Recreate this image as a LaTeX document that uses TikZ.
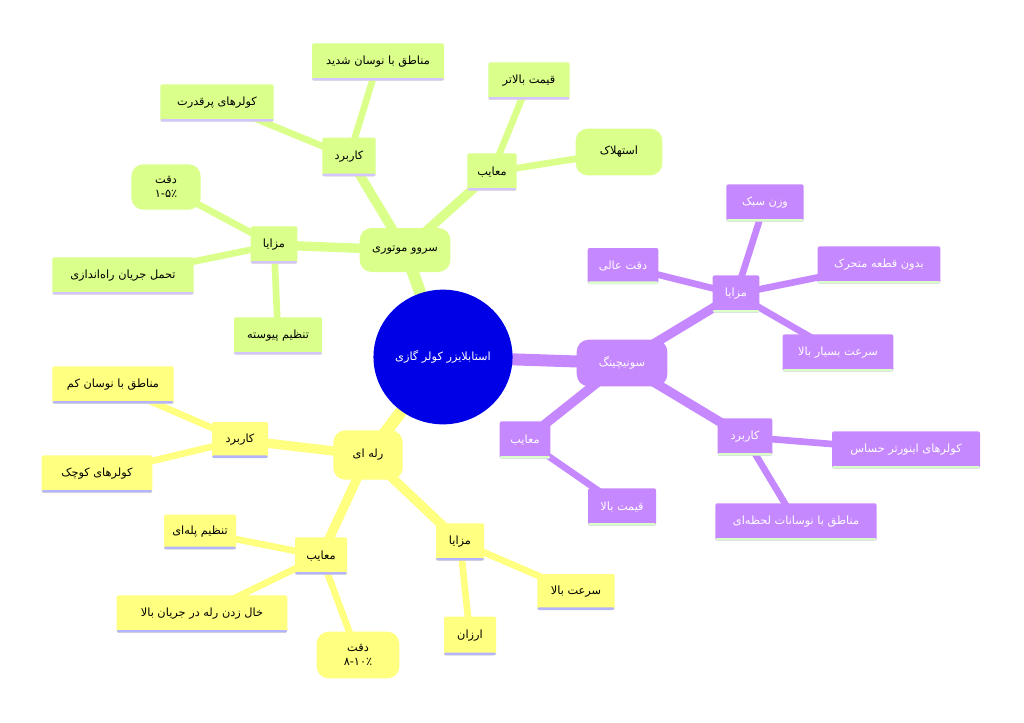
\documentclass[tikz,border=0pt]{standalone}
\usepackage{fontspec}
\newfontfamily\arabicfont[Script=Arabic]{DejaVu Sans}
\TeXXeTstate=1
\usetikzlibrary{backgrounds,shapes.geometric}
\definecolor{servoclr}{HTML}{DAFF8A}
\definecolor{relayclr}{HTML}{FFFF80}
\definecolor{sonicclr}{HTML}{C688FF}
\definecolor{rootclr}{HTML}{0000E6}
\definecolor{lineg}{HTML}{D4C4FF}
\definecolor{liney}{HTML}{B4B4FF}
\definecolor{linep}{HTML}{DAFFC8}
\newcommand\fa[1]{\beginR #1\endR}
\tikzset{
  box/.style={inner sep=1pt, align=center, font=\arabicfont\fontsize{8.5}{11}\selectfont},
  flat/.style={box, rounded corners=1.5pt, fill=#1},
  under/.style={path picture={\fill[#1] (path picture bounding box.south west) rectangle ([yshift=2pt]path picture bounding box.south east);}},
  gbox/.style={flat=servoclr, under=lineg},
  ybox/.style={flat=relayclr, under=liney},
  pbox/.style={flat=sonicclr, under=linep, text=white},
  round/.style={box, rounded corners=9pt, fill=#1},
  wide/.style={line width=9pt},
  mid/.style={line width=7pt},
  thin/.style={line width=5pt}
}
\begin{document}
\begin{tikzpicture}[x=0.75pt,y=-0.75pt]
\useasboundingbox (0,0) rectangle (1024,722);
% center
\node[ellipse, fill=rootclr, text=white, box, minimum width=91pt, minimum height=101pt] (root) at (443,357) {\fa{استابلایزر کولر گازی}};
% servo branch
\node[round=servoclr, minimum width=68pt, minimum height=33pt] (servo) at (405,250) {\fa{سروو موتوری}};
\node[gbox, minimum width=40pt, minimum height=29pt] (skar) at (349,157) {\fa{کاربرد}};
\node[gbox, minimum width=85pt, minimum height=28pt] (spor) at (217,103) {\fa{کولرهای پرقدرت}};
\node[gbox, minimum width=99pt, minimum height=28pt] (sshad) at (378,62) {\fa{مناطق با نوسان شدید}};
\node[gbox, minimum width=37pt, minimum height=28pt] (sayb) at (492,172) {\fa{معایب}};
\node[gbox, minimum width=61pt, minimum height=28pt] (sgeran) at (529,81) {\fa{قیمت بالاتر}};
\node[round=servoclr, minimum width=65pt, minimum height=35pt] (sest) at (619,152) {\fa{استهلاک}};
\node[gbox, minimum width=35pt, minimum height=28pt] (smaz) at (274,245) {\fa{مزایا}};
\node[round=servoclr, minimum width=52pt, minimum height=34pt] (sdeq) at (166,187) {\fa{دقت}\\\fa{۱-۵٪}};
\node[gbox, minimum width=106pt, minimum height=28pt] (stah) at (123,276) {\fa{تحمل جریان راه‌اندازی}};
\node[gbox, minimum width=66pt, minimum height=28pt] (stan) at (278,336) {\fa{تنظیم پیوسته}};
% relay branch
\node[round=relayclr, minimum width=52pt, minimum height=37pt] (relay) at (368,455) {\fa{رله ای}};
\node[ybox, minimum width=42pt, minimum height=27pt] (rkar) at (240,440) {\fa{کاربرد}};
\node[ybox, minimum width=91pt, minimum height=28pt] (rkam) at (113,385) {\fa{مناطق با نوسان کم}};
\node[ybox, minimum width=83pt, minimum height=28pt] (rkuch) at (97,474) {\fa{کولرهای کوچک}};
\node[ybox, minimum width=39pt, minimum height=28pt] (rayb) at (321,556) {\fa{معایب}};
\node[ybox, minimum width=54pt, minimum height=26pt] (rpel) at (200,532) {\fa{تنظیم پله‌ای}};
\node[ybox, minimum width=128pt, minimum height=28pt] (rkhal) at (202,614) {\fa{خال زدن رله در جریان بالا}};
\node[round=relayclr, minimum width=62pt, minimum height=35pt] (rdeq) at (358,655) {\fa{دقت}\\\fa{۸-۱۰٪}};
\node[ybox, minimum width=36pt, minimum height=28pt] (rmaz) at (460,542) {\fa{مزایا}};
\node[ybox, minimum width=58pt, minimum height=27pt] (rsor) at (576,592) {\fa{سرعت بالا}};
\node[ybox, minimum width=39pt, minimum height=29pt] (rarz) at (470,636) {\fa{ارزان}};
% sonic branch
\node[round=sonicclr, text=white, minimum width=68pt, minimum height=35pt] (sonic) at (622,363) {\fa{سونیچینگ}};
\node[pbox, minimum width=35pt, minimum height=28pt] (pmaz) at (736,294) {\fa{مزایا}};
\node[pbox, minimum width=58pt, minimum height=28pt] (pvaz) at (765,203) {\fa{وزن سبک}};
\node[pbox, minimum width=53pt, minimum height=27pt] (pdeq) at (623,266) {\fa{دقت عالی}};
\node[pbox, minimum width=92pt, minimum height=28pt] (pbed) at (879,265) {\fa{بدون قطعه متحرک}};
\node[pbox, minimum width=83pt, minimum height=28pt] (psor) at (838,353) {\fa{سرعت بسیار بالا}};
\node[pbox, minimum width=41pt, minimum height=28pt] (pkar) at (745,437) {\fa{کاربرد}};
\node[pbox, minimum width=111pt, minimum height=28pt] (pinv) at (906,450) {\fa{کولرهای اینورتر حساس}};
\node[pbox, minimum width=121pt, minimum height=28pt] (plah) at (796,522) {\fa{مناطق با نوسانات لحظه‌ای}};
\node[pbox, minimum width=38pt, minimum height=28pt] (payb) at (525,440) {\fa{معایب}};
\node[pbox, minimum width=51pt, minimum height=28pt] (pgeran) at (622,507) {\fa{قیمت بالا}};
% connectors
\begin{scope}[on background layer]
\draw[servoclr, wide] (root.center) -- (servo.center);
\draw[relayclr, wide] (root.center) -- (relay.center);
\draw[sonicclr, wide] (root.center) -- (sonic.center);
\foreach \a/\b in {servo/skar, servo/sayb, servo/smaz} \draw[servoclr, mid] (\a.center) -- (\b.center);
\foreach \a/\b in {skar/spor, skar/sshad, sayb/sgeran, sayb/sest, smaz/sdeq, smaz/stah, smaz/stan} \draw[servoclr, thin] (\a.center) -- (\b.center);
\foreach \a/\b in {relay/rkar, relay/rayb, relay/rmaz} \draw[relayclr, mid] (\a.center) -- (\b.center);
\foreach \a/\b in {rkar/rkam, rkar/rkuch, rayb/rpel, rayb/rkhal, rayb/rdeq, rmaz/rsor, rmaz/rarz} \draw[relayclr, thin] (\a.center) -- (\b.center);
\foreach \a/\b in {sonic/pmaz, sonic/pkar, sonic/payb} \draw[sonicclr, mid] (\a.center) -- (\b.center);
\foreach \a/\b in {pmaz/pvaz, pmaz/pdeq, pmaz/pbed, pmaz/psor, pkar/pinv, pkar/plah, payb/pgeran} \draw[sonicclr, thin] (\a.center) -- (\b.center);
\end{scope}
\end{tikzpicture}
\end{document}
